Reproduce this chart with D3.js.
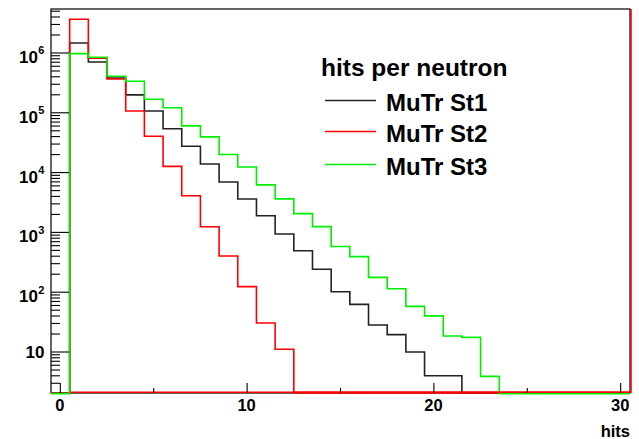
<!DOCTYPE html>
<html><head><meta charset="utf-8">
<script src="https://cdn.jsdelivr.net/npm/d3@7"></script>
<style>html,body{margin:0;padding:0;background:#fff;}svg{display:block;}text{font-family:"Liberation Sans",Arial,Helvetica,sans-serif;font-weight:bold;}</style>
</head><body>
<script>
// ---- data ----
const binCenters = d3.range(0, 31);
const st1 = [0, 1.47e6, 7.07e5, 3.82e5, 1.99e5, 1.07e5, 5.42e4, 2.75e4, 1.39e4, 6.97e3, 3.62e3, 1.9e3, 940, 494, 242, 102, 62.7, 28.3, 19.5, 10, 4, 4, 0, 0, 0, 0, 0, 0, 0, 0, 0];
const st2 = [0, 3.66e6, 8.15e5, 3.67e5, 1.07e5, 4.05e4, 1.27e4, 4.11e3, 1.24e3, 403, 124, 30.5, 11.1, 0, 0, 0, 0, 0, 0, 0, 0, 0, 0, 0, 0, 0, 0, 0, 0, 0, 0];
const st3 = [0, 1.0e6, 8.67e5, 4.17e5, 3.44e5, 1.72e5, 1.24e5, 6.18e4, 4.05e4, 2.05e4, 1.27e4, 6.37e3, 3.72e3, 2.11e3, 1.28e3, 593, 403, 181, 117, 59.4, 41.1, 19, 18, 4, 0, 0, 0, 0, 0, 0, 0];
const seriesNames = ["MuTr St1", "MuTr St2", "MuTr St3"];
const legendTitle = "hits per neutron";
const xTickMajor = [0, 10, 20, 30];
const xTickMinor = [5, 15, 25];
const yTickMajor = [10, 100, 1e3, 1e4, 1e5, 1e6];
const yTickExp = ["", "2", "3", "4", "5", "6"];
const xTitle = "hits";

// ---- layout ----
const W = 639, H = 439;
const L = 51, R = 630, T = 9, B = 393;
const colors = ["#222222", "#ff0000", "#00ee00"];

const svg = d3.select("body").append("svg").attr("width", W).attr("height", H);
svg.append("rect").attr("width", W).attr("height", H).attr("fill", "#fff");

const x = d3.scaleLinear().domain([-0.5, 30.5]).range([L, R]);
const y = d3.scaleLog().domain([2.063, 5.44e6]).range([B, T]);

// ---- frame (drawn first, histograms go over it) ----
svg.append("rect").attr("x", L).attr("y", T).attr("width", R - L).attr("height", B - T)
  .attr("fill", "none").attr("stroke", "#000").attr("stroke-width", 1.2);

function histPoints(vals) {
  const pts = [[x(-0.5), B]];
  vals.forEach((v, i) => {
    const yy = v > 0 ? Math.max(T, y(v)) : B;
    pts.push([x(binCenters[i] - 0.5), yy]);
    pts.push([x(binCenters[i] + 0.5), yy]);
  });
  pts.push([x(30.5), B]);
  return pts;
}
const line = d3.line();

// red frame edges (bottom from first filled bin, right side)
svg.append("line").attr("x1", x(0.5)).attr("x2", R).attr("y1", B - 0.8).attr("y2", B - 0.8)
  .style("stroke", colors[1]).attr("stroke-width", 1.6);

const data = [st1, st2, st3];
data.forEach((vals, k) => {
  svg.append("path").attr("d", line(histPoints(vals)))
    .attr("fill", "none").style("stroke", colors[k]).attr("stroke-width", 1.6)
    .attr("stroke-linejoin", "miter")
    .attr("transform", k === 2 ? "translate(0,0.6)" : null);
});
svg.append("line").attr("x1", R + 1).attr("x2", R + 1).attr("y1", T).attr("y2", B)
  .style("stroke", colors[1]).attr("stroke-width", 1.6);
svg.append("line").attr("x1", x(12.5)).attr("x2", R).attr("y1", B - 0.8).attr("y2", B - 0.8)
  .style("stroke", colors[1]).attr("stroke-width", 1.4);

// ---- y axis ticks ----
const yMinor = [];
for (let e = 0; e <= 6; e++) for (let m = 2; m <= 9; m++) {
  const v = m * Math.pow(10, e);
  if (v >= y.domain()[0] && v <= y.domain()[1]) yMinor.push(v);
}
svg.selectAll(".ymin").data(yMinor).enter().append("line")
  .attr("x1", L).attr("x2", L + 9).attr("y1", d => y(d)).attr("y2", d => y(d))
  .attr("stroke", "#000").attr("stroke-width", 1.1);
svg.selectAll(".ymaj").data(yTickMajor).enter().append("line")
  .attr("x1", L).attr("x2", L + 18).attr("y1", d => y(d)).attr("y2", d => y(d))
  .attr("stroke", "#000").attr("stroke-width", 1.1);

yTickMajor.forEach((v, i) => {
  const yy = y(v);
  if (yTickExp[i] === "") {
    svg.append("text").attr("x", 44.5).attr("y", yy + 6).attr("text-anchor", "end")
      .attr("font-size", 17).text("10");
  } else {
    svg.append("text").attr("x", 38).attr("y", yy + 10).attr("text-anchor", "end")
      .attr("font-size", 17).text("10");
    svg.append("text").attr("x", 38.3).attr("y", yy + 1.5).attr("font-size", 11).text(yTickExp[i]);
  }
});

// ---- x axis ticks ----
svg.selectAll(".xmaj").data(xTickMajor).enter().append("line")
  .attr("x1", d => x(d)).attr("x2", d => x(d)).attr("y1", B).attr("y2", B - 10)
  .attr("stroke", "#000").attr("stroke-width", 1.1);
svg.selectAll(".xmin").data(xTickMinor).enter().append("line")
  .attr("x1", d => x(d)).attr("x2", d => x(d)).attr("y1", B).attr("y2", B - 5)
  .attr("stroke", "#000").attr("stroke-width", 1.1);
svg.selectAll(".xlab").data(xTickMajor).enter().append("text")
  .attr("x", d => x(d) - 0.5).attr("y", 411).attr("text-anchor", "middle")
  .attr("font-size", 16.5).text(d => d);
svg.append("text").attr("x", 630).attr("y", 436.5).attr("text-anchor", "end")
  .attr("font-size", 16.5).text(xTitle);

// ---- legend ----
svg.append("text").attr("x", 321).attr("y", 76).attr("font-size", 24.5).text(legendTitle);
const legY = [100.5, 131.5, 164.5];
seriesNames.forEach((n, k) => {
  svg.append("line").attr("x1", 325).attr("x2", 376).attr("y1", legY[k]).attr("y2", legY[k])
    .style("stroke", colors[k]).attr("stroke-width", 1.3);
  svg.append("text").attr("x", 386).attr("y", legY[k] + 10).attr("font-size", 24).text(n);
});
</script>
</body></html>
